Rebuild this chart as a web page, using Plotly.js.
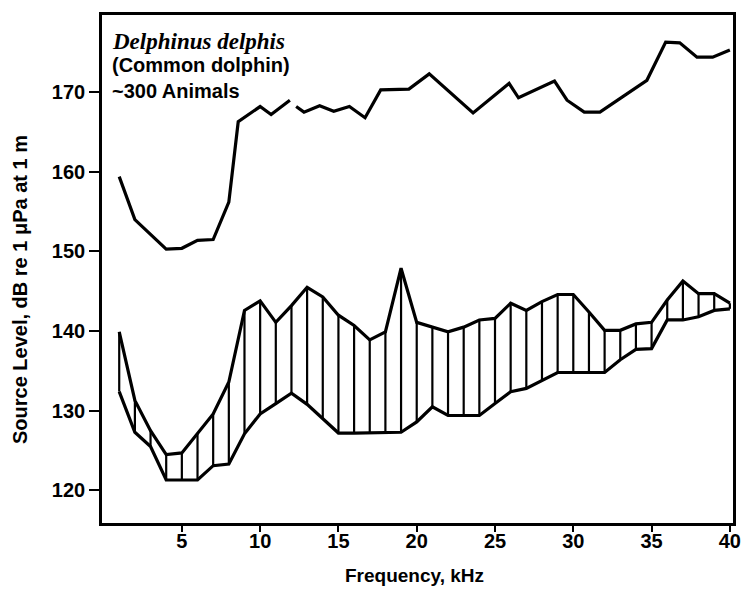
<!DOCTYPE html>
<html>
<head>
<meta charset="utf-8">
<script src="https://cdn.plot.ly/plotly-3.0.1.min.js"></script>
<style>html,body{margin:0;padding:0;background:#fff;}#chart{width:741px;height:589px;}</style>
</head>
<body>
<div id="chart"></div>
<script>
// Upper curve (maximum source level), gap near 12 kHz
const topFreq = [1, 2, 4, 5, 6, 7, 8, 8.6, 10, 10.7, 11.9, null, 12.3, 12.8, 13.8, 14.7, 15.7, 16.7, 17.7, 19.5, 20.8, 23.6, 25.9, 26.5, 28.8, 29.6, 30.7, 31.7, 34.7, 35.9, 36.8, 37.9, 38.9, 40];
const topLevel = [159.4, 154.0, 150.3, 150.4, 151.4, 151.5, 156.2, 166.3, 168.2, 167.2, 169.0, null, 168.2, 167.5, 168.3, 167.6, 168.2, 166.8, 170.3, 170.4, 172.3, 167.4, 171.1, 169.3, 171.4, 169.0, 167.5, 167.5, 171.5, 176.3, 176.2, 174.4, 174.4, 175.3];

// Hatched band (range of source levels) at each kHz
const bandFreq = [1,2,3,4,5,6,7,8,9,10,11,12,13,14,15,16,17,18,19,20,21,22,23,24,25,26,27,28,29,30,31,32,33,34,35,36,37,38,39,40];
const bandUpper = [139.9,131.3,127.5,124.5,124.7,127.1,129.6,133.6,142.6,143.8,141.1,143.2,145.5,144.3,142.0,140.7,138.9,139.9,147.9,141.1,140.5,139.9,140.5,141.4,141.6,143.5,142.6,143.7,144.6,144.6,142.4,140.1,140.1,140.9,141.1,143.9,146.3,144.7,144.7,143.5];
const bandLower = [132.4,127.3,125.5,121.3,121.3,121.3,123.1,123.3,127.1,129.6,130.9,132.2,130.8,129.0,127.2,127.2,127.2,127.2,127.3,128.6,130.5,129.4,129.4,129.4,130.9,132.4,132.8,133.8,134.8,134.8,134.8,134.8,136.4,137.7,137.8,141.4,141.4,141.8,142.6,142.8];

const xTicks = [5, 10, 15, 20, 25, 30, 35, 40];
const yTicks = [120, 130, 140, 150, 160, 170];

const hx = [], hy = [];
bandFreq.forEach((f, i) => { hx.push(f, f, null); hy.push(bandLower[i], bandUpper[i], null); });

const lineStyle = {color: '#000', width: 3.2};
const traces = [
  {x: topFreq, y: topLevel, mode: 'lines', line: lineStyle, connectgaps: false, hoverinfo: 'skip'},
  {x: bandFreq, y: bandUpper, mode: 'lines', line: lineStyle, hoverinfo: 'skip'},
  {x: bandFreq, y: bandLower, mode: 'lines', line: lineStyle, hoverinfo: 'skip'},
  {x: hx, y: hy, mode: 'lines', line: {color: '#000', width: 2.2}, connectgaps: false, hoverinfo: 'skip'}
];

const sans = 'Liberation Sans, Arial, sans-serif';
const L = 102, R = 733, T = 15, B = 523;
const px = v => (v - L) / (R - L);
const py = v => (B - v) / (B - T);

const layout = {
  width: 741, height: 589,
  margin: {l: L, r: 741 - R, t: T, b: 589 - B},
  paper_bgcolor: '#fff', plot_bgcolor: '#fff',
  showlegend: false,
  xaxis: {
    range: [-0.1, 40.2], tickvals: xTicks, ticktext: xTicks.map(String),
    ticks: 'outside', ticklen: 6, tickwidth: 2, tickcolor: '#000',
    ticklabelstandoff: -8,
    showline: true, linecolor: '#000', linewidth: 2.8, mirror: true,
    showgrid: false, zeroline: false,
    tickfont: {family: sans, size: 20, color: '#000', weight: 'bold'}
  },
  yaxis: {
    range: [115.9, 179.7], tickvals: yTicks, ticktext: yTicks.map(String),
    ticks: 'outside', ticklen: 10, tickwidth: 2, tickcolor: '#000',
    showline: true, linecolor: '#000', linewidth: 2.8, mirror: true,
    showgrid: false, zeroline: false,
    tickfont: {family: sans, size: 20, color: '#000', weight: 'bold'}
  },
  annotations: [
    {xref: 'paper', yref: 'paper', x: px(20), y: py(290), text: 'Source Level, dB re 1 μPa at 1 m', textangle: -90, showarrow: false, xanchor: 'center', yanchor: 'middle', font: {family: sans, size: 20, color: '#000', weight: 'bold'}},
    {xref: 'paper', yref: 'paper', x: px(414), y: py(575), text: 'Frequency, kHz', showarrow: false, xanchor: 'center', yanchor: 'middle', font: {family: sans, size: 19, color: '#000', weight: 'bold'}},
    {xref: 'paper', yref: 'paper', x: px(110), y: py(41), text: '<b><i>Delphinus delphis</i></b>', showarrow: false, xanchor: 'left', yanchor: 'middle', font: {family: 'Liberation Serif, Times New Roman, serif', size: 23, color: '#000'}},
    {xref: 'paper', yref: 'paper', x: px(110), y: py(65), text: '<b>(Common dolphin)</b>', showarrow: false, xanchor: 'left', yanchor: 'middle', font: {family: sans, size: 20, color: '#000'}},
    {xref: 'paper', yref: 'paper', x: px(110), y: py(91), text: '<b>~300 Animals</b>', showarrow: false, xanchor: 'left', yanchor: 'middle', font: {family: sans, size: 20, color: '#000'}}
  ]
};

Plotly.newPlot('chart', traces, layout, {staticPlot: true, displayModeBar: false});
</script>
</body>
</html>
